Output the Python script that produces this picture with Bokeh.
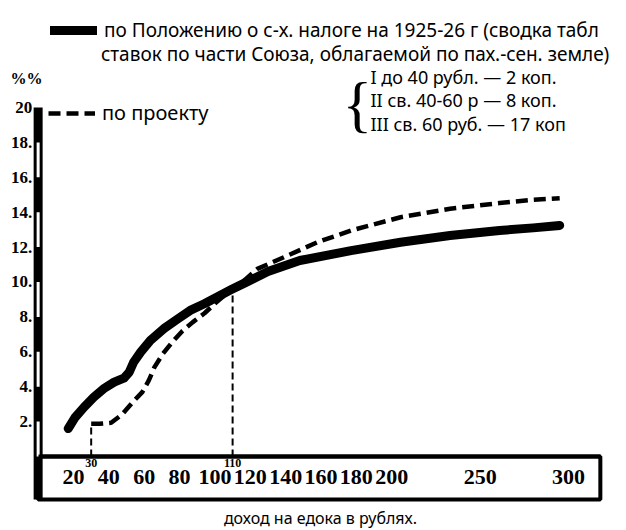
from bokeh.plotting import figure
from bokeh.models import (LinearAxis, FixedTicker, Legend, LegendItem, Label, Range1d)
from bokeh.core.properties import value
from bokeh.embed import file_html
from bokeh.resources import INLINE

# ---- data ----
INCOME_CURRENT = [17, 21, 26, 31.5, 37, 43, 48.5, 51.5, 54, 58, 63.5, 71, 79, 86, 94, 101, 109, 117,
                  130, 148, 177, 205, 233, 261, 280, 295]
TAX_CURRENT = [1.6, 2.25, 2.83, 3.4, 3.88, 4.26, 4.49, 4.83, 5.4, 5.98, 6.65, 7.32, 7.89, 8.37, 8.75,
               9.13, 9.55, 9.95, 10.6, 11.23, 11.8, 12.28, 12.66, 12.95, 13.1, 13.24]

INCOME_PROJECT = [30, 34.7, 41.3, 47.5, 53.2, 58.9, 62.6, 65.8, 70.5, 75.8, 81.5, 87.5, 94.1, 100.3,
                  105.4, 114.5, 124, 139, 158, 177, 205, 233, 261, 280, 295]
TAX_PROJECT = [1.87, 1.87, 1.93, 2.41, 3.08, 3.69, 4.36, 5.12, 5.88, 6.55, 7.18, 7.7, 8.21, 8.79,
               9.23, 9.9, 10.75, 11.42, 12.28, 12.95, 13.71, 14.2, 14.52, 14.71, 14.8]

MARK_INCOME = [30, 110]
MARK_TAX = [1.87, 9.7]
MARK_LABELS = ["30", "110"]

X_TICKS = [20, 40, 60, 80, 100, 120, 140, 160, 180, 200, 250, 300]
Y_TICKS = [2, 4, 6, 8, 10, 12, 14, 16, 18, 20]
Y_TICK_LABELS = ["2.", "4.", "6.", "8.", "10.", "12.", "14.", "16.", "18.", "20"]

LEGEND_CURRENT_1 = "по Положению о с-х. налоге на 1925-26 г (сводка табл"
LEGEND_CURRENT_2 = "ставок по части Союза, облагаемой по пах.-сен. земле)"
LEGEND_PROJECT = "по проекту"
RATES = ["I до 40 рубл. — 2 коп.", "II св. 40-60 р — 8 коп.", "III св. 60 руб. — 17 коп"]
Y_UNIT = "%%"
X_TITLE = "доход на едока в рублях."

X_END = 318
BOX_BOTTOM = -2.46

TEXT_FONT = "Noto Sans"
NUM_FONT = "Liberation Serif"

p = figure(width=620, height=528,
           x_range=Range1d(-21.29, 329.4), y_range=Range1d(-4.126, 26.13),
           x_axis_type=None, y_axis_type=None,
           output_backend="svg", toolbar_location=None, min_border=0)
p.outline_line_color = None
p.background_fill_color = "white"
p.border_fill_color = "white"

# x-axis box
p.quad(left=[0], right=[X_END], bottom=[BOX_BOTTOM], top=[0],
       fill_color=None, line_color="black", line_width=4)

# y-axis bar: black bar with alternating white inner stripes
p.segment(x0=[0], y0=[BOX_BOTTOM], x1=[0], y1=[Y_TICKS[-1]],
          line_color="black", line_width=9)
stripe_hi = Y_TICKS[::2]
stripe_lo = [t - 2 for t in stripe_hi]
p.segment(x0=[0] * len(stripe_hi), y0=stripe_lo, x1=[0] * len(stripe_hi), y1=stripe_hi,
          line_color="white", line_width=3)

xaxis = LinearAxis(fixed_location=0, bounds=(0, X_END),
                   ticker=FixedTicker(ticks=X_TICKS),
                   axis_line_width=4, axis_line_color="black",
                   major_tick_line_color=None, minor_tick_line_color=None,
                   major_tick_in=0, major_tick_out=0,
                   major_label_standoff=14,
                   major_label_text_font=NUM_FONT,
                   major_label_text_font_style="bold",
                   major_label_text_font_size="22px",
                   major_label_text_color="black")
p.add_layout(xaxis, "below")

yaxis = LinearAxis(fixed_location=0, bounds=(BOX_BOTTOM, 20),
                   ticker=FixedTicker(ticks=Y_TICKS),
                   major_label_overrides=dict(zip(Y_TICKS, Y_TICK_LABELS)),
                   axis_line_color=None,
                   major_tick_line_color=None, minor_tick_line_color=None,
                   major_tick_in=0, major_tick_out=0,
                   major_label_standoff=6,
                   major_label_text_font=NUM_FONT,
                   major_label_text_font_style="bold",
                   major_label_text_font_size="17px",
                   major_label_text_color="black")
p.add_layout(yaxis, "left")

# marker verticals
p.segment(x0=MARK_INCOME, y0=0, x1=MARK_INCOME, y1=MARK_TAX,
          line_color="black", line_width=2, line_dash="7 4")
p.text(x=MARK_INCOME, y=0, text=MARK_LABELS, text_align="center",
       text_baseline="top", y_offset=3, text_font=value(NUM_FONT),
       text_font_style="bold", text_font_size="12px", text_color="black")

# curves
solid = p.line(INCOME_CURRENT, TAX_CURRENT, line_color="black", line_width=9,
               line_cap="round", line_join="round")
proj = p.line(INCOME_PROJECT, TAX_PROJECT, line_color="black", line_width=4.5,
              line_dash="12 6", line_join="round")

# legends
common = dict(border_line_color=None, background_fill_alpha=0, padding=0, margin=0,
              spacing=0, glyph_width=47, glyph_height=20, label_height=20,
              label_standoff=7, label_text_font=TEXT_FONT, label_text_color="black")
leg1 = Legend(items=[LegendItem(label=LEGEND_CURRENT_1, renderers=[solid])],
              location=(50, 485), label_text_font_size="19px", **common)
leg2 = Legend(items=[LegendItem(label=LEGEND_PROJECT, renderers=[proj])],
              location=(48, 402), label_text_font_size="20px", **common)
p.add_layout(leg1)
p.add_layout(leg2)

p.add_layout(Label(x=35.5, y=23.09, text=LEGEND_CURRENT_2, text_baseline="middle",
                   text_font=TEXT_FONT, text_font_size="19px", text_color="black"))
p.add_layout(Label(x=-15.6, y=21.66, text=Y_UNIT, text_baseline="middle",
                   text_font=NUM_FONT, text_font_style="bold", text_font_size="16px",
                   text_color="black"))
p.add_layout(Label(x=180.6, y=20.2, text="{", text_align="center", text_baseline="middle",
                   text_font=NUM_FONT, text_font_size="62px", text_color="black"))
for txt, yy in zip(RATES, [21.72, 20.4, 19.03]):
    p.add_layout(Label(x=188, y=yy, text=txt, text_baseline="middle",
                       text_font=TEXT_FONT, text_font_size="18px", text_color="black"))
p.add_layout(Label(x=159.7, y=-3.5, text=X_TITLE, text_align="center", text_baseline="middle",
                   text_font=TEXT_FONT, text_font_size="16px", text_color="black"))

open("out.html", "w").write(file_html(p, INLINE))
